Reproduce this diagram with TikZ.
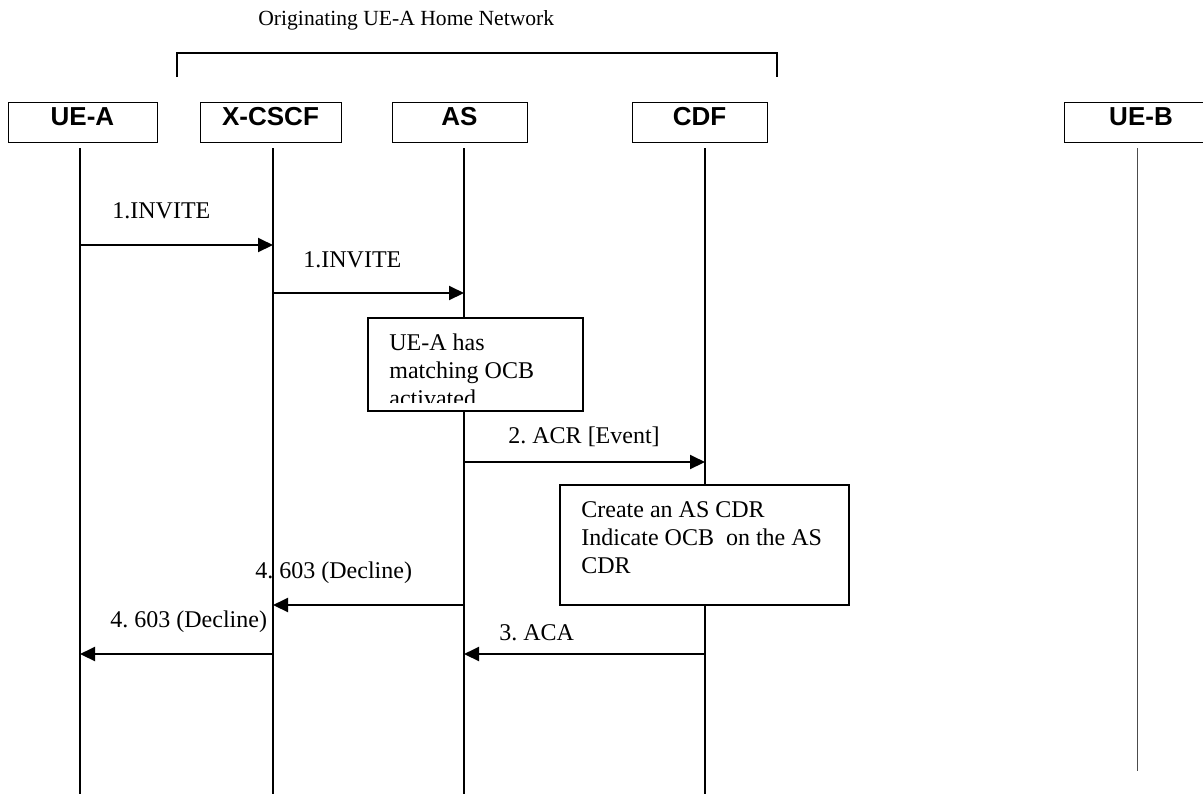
\documentclass[tikz,border=0pt]{standalone}
\usepackage{fontspec}
\setmainfont{Liberation Serif}
\newfontfamily\hdrfont{Liberation Sans}
\usetikzlibrary{arrows.meta}
\frenchspacing
\begin{document}
\begin{tikzpicture}[x=0.5pt,y=-0.5pt,
  hbox/.style={draw, line width=0.5pt, inner sep=0pt, minimum height=20pt},
  htext/.style={anchor=base, inner sep=0pt, font=\hdrfont\bfseries\fontsize{13}{15}\selectfont},
  life/.style={line width=0.6pt},
  msg/.style={line width=1pt, -{Triangle[length=7.5pt,width=7pt]}},
  lbl/.style={anchor=base west, inner sep=0pt, font=\fontsize{12}{14}\selectfont},
  note/.style={draw, line width=0.8pt, inner sep=0pt},
  notetext/.style={anchor=north west, inner sep=0pt, align=left, font=\fontsize{12}{14}\selectfont}]
\useasboundingbox (0,0) rectangle (1203,794);

% title and bracket
\node[lbl, font=\fontsize{10.8}{13}\selectfont] (title) at (258,25) {Originating UE-A Home Network};
\coordinate (brl) at (177,77);
\coordinate (brr) at (777,77);
\draw[line width=0.6pt] (brl) -- (brl |- 0,53) -- (brr |- 0,53) -- (brr);

% header boxes
\node[hbox, minimum width=74.5pt] (uea) at (82.5,122) {};
\node[hbox, minimum width=70.5pt] (xcscf) at (270.5,122) {};
\node[hbox, minimum width=67.5pt] (as) at (459.5,122) {};
\node[hbox, minimum width=67.5pt] (cdf) at (699.5,122) {};
\node[hbox, minimum width=77pt] (ueb) at (1141,122) {};
\node[htext] (ueat) at ([yshift=-12.2pt]uea.north) {UE-A};
\node[htext] (xcscft) at ([yshift=-12.2pt]xcscf.north) {X-CSCF};
\node[htext] (ast) at ([yshift=-12.2pt]as.north) {AS};
\node[htext] (cdft) at ([yshift=-12.2pt]cdf.north) {CDF};
\node[htext] (uebt) at ([yshift=-12.2pt]ueb.north) {UE-B};

% lifelines
\coordinate (la) at (80,148);
\coordinate (lx) at (273,148);
\coordinate (ls) at (464,148);
\coordinate (lc) at (705,148);
\coordinate (lb) at (1137,148);
\draw[life] (la) -- (la |- 0,794);
\draw[life] (lx) -- (lx |- 0,794);
\draw[life] (ls) -- (ls |- 0,794);
\draw[life] (lc) -- (lc |- 0,794);
\draw[line width=0.4pt, black!70] (lb) -- (lb |- 0,771);

% messages
\draw[msg] (la |- 0,245) -- (lx |- 0,245);
\node[lbl] (m1) at (112,218) {1.INVITE};
\draw[msg] (lx |- 0,293) -- (ls |- 0,293);
\node[lbl] (m2) at (303,267) {1.INVITE};

% note 1
\node[note, fill=white, minimum width=107.5pt, minimum height=46.5pt] (n1) at (475.5,364.5) {};
\begin{scope}
  \clip (368,317) rectangle (583,402);
  \node[notetext] (n1t) at (389,333) {UE-A has\\matching OCB\\activated};
\end{scope}

\draw[msg] (ls |- 0,462) -- (lc |- 0,462);
\node[lbl] (m3) at (508,443) {2. ACR [Event]};

% note 2
\node[note, fill=white, minimum width=144.5pt, minimum height=60pt] (n2) at (704.5,545) {};
\node[notetext] (n2t) at (581,501) {Create an AS CDR\\Indicate OCB\ \ on the AS\\CDR};

\draw[msg] (ls |- 0,605) -- (lx |- 0,605);
\node[lbl] (m4) at (255,578) {4. 603 (Decline)};
\draw[msg] (lx |- 0,654) -- (la |- 0,654);
\node[lbl] (m5) at (110,627) {4. 603 (Decline)};
\draw[msg] (lc |- 0,654) -- (ls |- 0,654);
\node[lbl] (m6) at (499,640) {3. ACA};
\end{tikzpicture}
\end{document}
